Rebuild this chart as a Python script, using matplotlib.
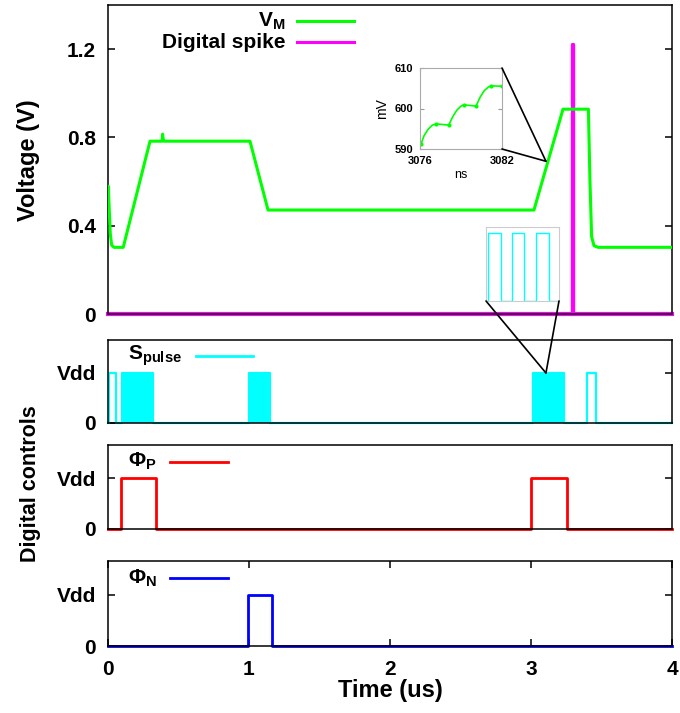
import numpy as np
import matplotlib
matplotlib.use('Agg')
import matplotlib.pyplot as plt
from matplotlib.patches import ConnectionPatch

plt.rcParams['font.family'] = ['Liberation Sans', 'DejaVu Sans']
plt.rcParams['font.weight'] = 'bold'
plt.rcParams['mathtext.fontset'] = 'custom'
plt.rcParams['mathtext.rm'] = 'Liberation Sans:bold'
plt.rcParams['mathtext.it'] = 'Liberation Sans:bold'
plt.rcParams['mathtext.bf'] = 'Liberation Sans:bold'

# membrane voltage (us, V)
t_vm = [0.0, 0.002, 0.009, 0.016, 0.026, 0.042, 0.108, 0.298, 0.384, 0.387, 0.392, 0.397,
        1.007, 1.135, 3.021, 3.227, 3.407, 3.418, 3.43, 3.447, 3.477, 4.0]
v_vm = [0.57, 0.579, 0.47, 0.365, 0.312, 0.302, 0.302, 0.783, 0.783, 0.815, 0.79, 0.783,
        0.783, 0.471, 0.471, 0.928, 0.928, 0.606, 0.35, 0.309, 0.302, 0.302]

# digital spike
t_spk = [0.0, 3.299, 3.299, 3.301, 3.301, 4.0]
v_spk = [0.0, 0.0, 1.22, 1.22, 0.0, 0.0]

# zoom of V_M (ns, mV)
t_zoom = [3076.07, 3076.3, 3076.6, 3076.9, 3077.2, 3078.1, 3078.4, 3078.7, 3079.0, 3079.2,
          3080.1, 3080.4, 3080.7, 3081.0, 3081.2, 3082.0]
v_zoom = [591.2, 593.3, 594.9, 595.9, 596.2, 595.9, 598.0, 599.6, 600.6, 600.9,
          600.6, 602.8, 604.4, 605.3, 605.6, 605.5]
zoom_knees = [0, 4, 5, 9, 10, 14, 15]

# S_pulse: single pulses drawn as outline, dense bursts drawn as blocks (us)
spulse_single = [(0.009, 0.054), (3.399, 3.461)]
spulse_burst = [(0.097, 0.322), (1.0, 1.149), (3.016, 3.234)]
# three pulses of the burst, zoomed (arbitrary ns)
zp_edges = [(0.15, 1.2), (2.15, 3.1), (4.1, 5.15)]

# phase controls (us)
phi_p = [(0.089, 0.341), (3.0, 3.253)]
phi_n = [(0.99, 1.16)]


def square_trace(pulses, t_end=4.0):
    t, v = [0.0], [0.0]
    for a, b in pulses:
        t += [a, a, b, b]
        v += [0, 1, 1, 0]
    t.append(t_end)
    v.append(0.0)
    return t, v


W, H = 680, 713
fig = plt.figure(figsize=(W / 100, H / 100), dpi=100)


def px_axes(x0, y0, x1, y1):
    return fig.add_axes([x0 / W, 1 - y1 / H, (x1 - x0) / W, (y1 - y0) / H])


ax0 = px_axes(108, 5, 672, 314)
ax1 = px_axes(108, 340, 672, 423)
ax2 = px_axes(108, 445, 672, 529)
ax3 = px_axes(108, 561, 672, 646)

for ax in (ax0, ax1, ax2, ax3):
    ax.set_xlim(0, 4)
    for s in ax.spines.values():
        s.set_linewidth(1.1)
    ax.tick_params(direction='in', length=5, width=1.1, labelsize=15, pad=8.5,
                   left=True, right=True, bottom=False, top=False, labelbottom=False)

# top panel
ax0.plot(t_vm, v_vm, color='#00ff00', lw=2.2, zorder=3)
ax0.plot(t_spk, v_spk, color='#ff00ff', lw=3, zorder=2, clip_on=False)
ax0.set_ylim(0, 1.4)
ax0.set_yticks([0, 0.4, 0.8, 1.2])
ax0.set_yticklabels(['0', '0.4', '0.8', '1.2'])

ax0.text(0.314, 0.948, r'$\mathrm{V_M}$', transform=ax0.transAxes, ha='right', va='center', fontsize=15)
ax0.text(0.314, 0.880, 'Digital spike', transform=ax0.transAxes, ha='right', va='center', fontsize=15)
ax0.plot([0.335, 0.436], [0.948, 0.948], transform=ax0.transAxes, color='#00ff00', lw=2.2)
ax0.plot([0.335, 0.436], [0.880, 0.880], transform=ax0.transAxes, color='#ff00ff', lw=2.2)

# S_pulse panel
t_s, v_s = square_trace(sorted(spulse_single + spulse_burst))
ax1.plot(t_s, v_s, color='#00ffff', lw=1.6, clip_on=False)
for a, b in spulse_burst:
    ax1.fill_between([a, b], 0, 1, color='#00ffff', lw=0)

t_p, v_p = square_trace(phi_p)
ax2.plot(t_p, v_p, color='#ff0000', lw=2.0, clip_on=False)

t_n, v_n = square_trace(phi_n)
ax3.plot(t_n, v_n, color='#0000ff', lw=2.0, clip_on=False)

legends = [(ax1, r'$\mathrm{S_{pulse}}$', '#00ffff', 0.131, 0.156, 0.257, 0.807),
           (ax2, r'$\Phi_{\mathrm{P}}$', '#ff0000', 0.087, 0.110, 0.213, 0.80),
           (ax3, r'$\Phi_{\mathrm{N}}$', '#0000ff', 0.087, 0.110, 0.213, 0.80)]
for ax, lab, col, xt, xl0, xl1, yl in legends:
    ax.set_ylim(0, 1.66)
    ax.set_yticks([0, 1])
    ax.set_yticklabels(['0', 'Vdd'])
    ax.text(xt, yl, lab, transform=ax.transAxes, ha='right', va='center', fontsize=15)
    ax.plot([xl0, xl1], [yl, yl], transform=ax.transAxes, color=col, lw=2.0)

ax3.tick_params(bottom=True, top=True, labelbottom=True)
ax3.tick_params(axis='x', pad=10)
ax3.set_xticks([0, 1, 2, 3, 4])
ax3.set_xticklabels(['0', '1', '2', '3', '4'])

fig.text(28 / W, 1 - 160 / H, 'Voltage (V)', rotation=90, ha='center', va='center', fontsize=17)
fig.text(31 / W, 1 - 484 / H, 'Digital controls', rotation=90, ha='center', va='center', fontsize=15.5)
fig.text(390 / W, 1 - 691 / H, 'Time (us)', ha='center', va='center', fontsize=17)

# inset: zoom of V_M
ins = px_axes(420, 68, 502, 149)
ins.plot(t_zoom, v_zoom, color='#00ff00', lw=1.2, marker='o', ms=2, markevery=zoom_knees)
ins.set_xlim(3076, 3082)
ins.set_ylim(590, 610)
ins.set_xticks([3076, 3082])
ins.set_yticks([590, 600, 610])
ins.tick_params(direction='in', length=3, labelsize=8, colors='#999999',
                labelcolor='black', right=True, top=True, pad=5)
for s in ins.spines.values():
    s.set_color('#aaaaaa')
ins.set_xlabel('ns', fontsize=9, labelpad=2)
ins.set_ylabel('mV', fontsize=10, labelpad=4)

zoom_pt = (3.106, 0.692)
for corner in [(1, 1), (1, 0)]:
    fig.add_artist(ConnectionPatch(xyA=corner, coordsA=ins.transAxes, xyB=zoom_pt,
                                   coordsB=ax0.transData, color='black', lw=1.2))

# inset: zoom of S_pulse burst
ins2 = px_axes(486, 227, 559, 301)
t_z, v_z = square_trace(zp_edges, t_end=6.0)
ins2.plot(t_z, v_z, color='#00ffff', lw=1.0)
ins2.set_xlim(0, 6)
ins2.set_ylim(0, 1.09)
ins2.set_xticks([])
ins2.set_yticks([])
for s in ins2.spines.values():
    s.set_color('#cccccc')

burst_pt = (3.106, 1.0)
for corner in [(0, 0), (1, 0)]:
    fig.add_artist(ConnectionPatch(xyA=corner, coordsA=ins2.transAxes, xyB=burst_pt,
                                   coordsB=ax1.transData, color='black', lw=1.2))

plt.savefig('out.png', dpi=100)
